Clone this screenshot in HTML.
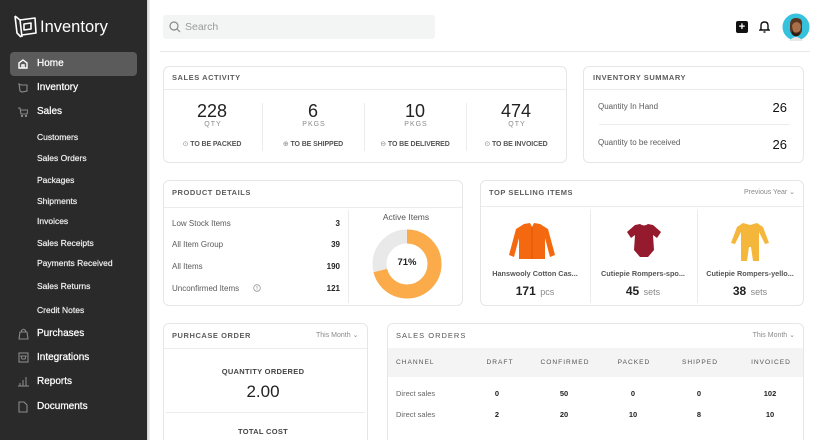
<!DOCTYPE html>
<html><head><meta charset="utf-8">
<style>
*{margin:0;padding:0;box-sizing:border-box}
html,body{width:825px;height:440px;overflow:hidden;background:#fff}
body{font-family:"Liberation Sans",sans-serif}
#w{position:relative;width:825px;height:440px;overflow:hidden}
.a{position:absolute;white-space:nowrap;line-height:12px}
.c{transform:translateX(-50%)}
.r{transform:translateX(-100%)}
#sb{position:absolute;left:0;top:0;width:147px;height:440px;background:#2a2a2a}
#sbe{position:absolute;left:147px;top:0;width:3px;height:440px;background:linear-gradient(to right,#cfcfcf,#f4f4f4)}
.m{color:#fff;font-size:10px;-webkit-text-stroke:0.25px #fff}
.s{color:#f0f0f0;font-size:8.5px;-webkit-text-stroke:0.2px #f0f0f0}
.card{position:absolute;border:1px solid #e6e6e6;border-radius:6px;background:#fff}
.hl{position:absolute;height:1px;background:#ececec}
.vl{position:absolute;width:1px;background:#ececec}
.h{font-size:7.5px;font-weight:bold;letter-spacing:0.55px;color:#5c5c5c}
.big{font-size:18px;color:#222;line-height:20px}
.u{font-size:7px;color:#8a8a8a;letter-spacing:1px}
.tb{font-size:7px;color:#555;font-weight:bold;letter-spacing:-0.1px}
.l8{font-size:8px;color:#5a5a5a}
.v8{font-size:8px;color:#222;font-weight:bold}
.dd{font-size:7px;color:#8a8a8a}
.th{font-size:6.6px;color:#555;letter-spacing:1px}
.rv{font-size:7.5px;color:#222;font-weight:bold}
.rl{font-size:7.5px;color:#666}
</style></head><body><div id="w">
<div id="sb"></div><div id="sbe"></div>
<!-- logo -->
<svg class="a" style="left:12px;top:13px" width="26" height="26" viewBox="0 0 26 26" fill="none" stroke="#fff" stroke-width="1.6" stroke-linejoin="round">
<path d="M3 3 L5 20 L9 24"/><path d="M3 3 L8 7 L10 24"/><path d="M8 7 L23 5 L24 20 L10 22"/><path d="M12 11 L19 10 L19 16 L12 17 Z"/>
</svg>
<div class="a" style="left:40px;top:17px;font-size:16.5px;color:#fff;line-height:20px">Inventory</div>
<!-- home highlight -->
<div style="position:absolute;left:10px;top:52px;width:127px;height:24px;background:#5b5b5b;border-radius:4px"></div>
<svg class="a" style="left:18px;top:59px" width="10" height="10" viewBox="0 0 10 10" fill="none" stroke="#fff" stroke-width="1.4"><path d="M1 9 V4 L5 1 L9 4 V9 Z"/><path d="M4 9 V6 H6 V9"/></svg>
<div class="a m" style="left:37px;top:58px">Home</div>
<svg class="a" style="left:18px;top:83px" width="10" height="10" viewBox="0 0 10 10" fill="none" stroke="#8a8a8a" stroke-width="1.1"><path d="M1 1 L2 8 L4 9 L9 8 L9 2 L3 2 Z"/></svg>
<div class="a m" style="left:37px;top:82px">Inventory</div>
<svg class="a" style="left:18px;top:107px" width="10" height="10" viewBox="0 0 10 10" fill="none" stroke="#8a8a8a" stroke-width="1.1"><path d="M0 1 H2 L3 7 H9 L10 3 H2.5"/><circle cx="4" cy="9" r=".6"/><circle cx="8" cy="9" r=".6"/></svg>
<div class="a m" style="left:37px;top:106px">Sales</div>
<div class="a s" style="left:37px;top:131px">Customers</div>
<div class="a s" style="left:37px;top:152px">Sales Orders</div>
<div class="a s" style="left:37px;top:174px">Packages</div>
<div class="a s" style="left:37px;top:195px">Shipments</div>
<div class="a s" style="left:37px;top:215px">Invoices</div>
<div class="a s" style="left:37px;top:237px">Sales Receipts</div>
<div class="a s" style="left:37px;top:257px">Payments Received</div>
<div class="a s" style="left:37px;top:280px">Sales Returns</div>
<div class="a s" style="left:37px;top:304px">Credit Notes</div>
<svg class="a" style="left:18px;top:328px" width="11" height="12" viewBox="0 0 11 12" fill="none" stroke="#8a8a8a" stroke-width="1.1"><path d="M1 11 L2 4 H9 L10 11 Z"/><path d="M3.5 4 V2.5 Q5.5 0 7.5 2.5 V4"/></svg>
<div class="a m" style="left:37px;top:328px">Purchases</div>
<svg class="a" style="left:18px;top:352px" width="11" height="11" viewBox="0 0 11 11" fill="none" stroke="#8a8a8a" stroke-width="1.1"><rect x="1" y="1" width="9" height="9"/><path d="M3 4 H8 L7 7 H4 Z"/></svg>
<div class="a m" style="left:37px;top:352px">Integrations</div>
<svg class="a" style="left:18px;top:376px" width="11" height="11" viewBox="0 0 11 11" fill="none" stroke="#8a8a8a" stroke-width="1.1"><path d="M0 10 H11"/><path d="M2 10 V7 M5 10 V4 M8 10 V1"/></svg>
<div class="a m" style="left:37px;top:376px">Reports</div>
<svg class="a" style="left:18px;top:401px" width="10" height="12" viewBox="0 0 10 12" fill="none" stroke="#8a8a8a" stroke-width="1.1"><path d="M1 1 H6 L9 4 V11 H1 Z"/></svg>
<div class="a m" style="left:37px;top:401px">Documents</div>

<!-- header -->
<div style="position:absolute;left:163px;top:15px;width:272px;height:24px;background:#f3f4f4;border-radius:3px"></div>
<svg class="a" style="left:169px;top:21px" width="12" height="12" viewBox="0 0 12 12" fill="none" stroke="#888" stroke-width="1.2"><circle cx="5" cy="5" r="4"/><path d="M8 8 L11 11"/></svg>
<div class="a" style="left:185px;top:21px;font-size:10.5px;color:#9a9a9a">Search</div>
<div class="hl" style="left:160px;top:51px;width:650px;background:#e8e8e8"></div>
<div style="position:absolute;left:736px;top:21px;width:12px;height:12px;background:#111;border-radius:2px"></div>
<div class="a" style="left:736px;top:21px;width:12px;text-align:center;color:#fff;font-size:11px;font-weight:bold;line-height:12px">+</div>
<svg class="a" style="left:759px;top:20px" width="11" height="13" viewBox="0 0 11 13" fill="none" stroke="#111" stroke-width="1.4"><path d="M2 9 V5.5 Q2 2 5.5 2 Q9 2 9 5.5 V9 L10 10 H1 Z"/><path d="M4.5 12 H6.5"/></svg>
<svg class="a" style="left:782px;top:13px" width="28" height="28" viewBox="0 0 28 28">
<circle cx="14" cy="14" r="13.5" fill="#36c1dc"/>
<path d="M8 12 Q8 5 14 5 Q21 5 20 12 L20 18 Q18 24 13 23 Q9 22 8 17 Z" fill="#5a3520"/>
<path d="M10 13 Q11 9 15 9 Q19 10 19 14 L18 18 Q14 21 11 18 Z" fill="#a8704a"/>
<path d="M10 17 Q13 24 18 18 L17 22 Q13 25 10 21 Z" fill="#2a1a12"/>
<path d="M7 28 Q14 20 21 28" fill="#e8e8e8"/>
</svg>

<!-- SALES ACTIVITY -->
<div class="card" style="left:163px;top:66px;width:404px;height:97px"></div>
<div class="a h" style="left:172px;top:72px">SALES ACTIVITY</div>
<div class="hl" style="left:164px;top:89px;width:402px"></div>
<div class="vl" style="left:262px;top:103px;height:48px"></div>
<div class="vl" style="left:364px;top:103px;height:48px"></div>
<div class="vl" style="left:466px;top:103px;height:48px"></div>
<div class="a big c" style="left:212px;top:101px">228</div>
<div class="a big c" style="left:313px;top:101px">6</div>
<div class="a big c" style="left:415px;top:101px">10</div>
<div class="a big c" style="left:516px;top:101px">474</div>
<div class="a u c" style="left:213px;top:119px">QTY</div>
<div class="a u c" style="left:314px;top:119px">PKGS</div>
<div class="a u c" style="left:416px;top:119px">PKGS</div>
<div class="a u c" style="left:517px;top:119px">QTY</div>
<div class="a tb c" style="left:212px;top:139px"><span style="font-weight:normal;color:#888">&#8857;</span> TO BE PACKED</div>
<div class="a tb c" style="left:313px;top:139px"><span style="font-weight:normal;color:#888">&#8853;</span> TO BE SHIPPED</div>
<div class="a tb c" style="left:415px;top:139px"><span style="font-weight:normal;color:#888">&#8854;</span> TO BE DELIVERED</div>
<div class="a tb c" style="left:516px;top:139px"><span style="font-weight:normal;color:#888">&#8857;</span> TO BE INVOICED</div>

<!-- INVENTORY SUMMARY -->
<div class="card" style="left:583px;top:66px;width:221px;height:97px"></div>
<div class="a h" style="left:593px;top:72px">INVENTORY SUMMARY</div>
<div class="hl" style="left:584px;top:89px;width:219px"></div>
<div class="a l8" style="left:598px;top:101px">Quantity In Hand</div>
<div class="a r" style="left:787px;top:101px;font-size:13px;color:#111;line-height:14px">26</div>
<div class="hl" style="left:599px;top:124px;width:191px"></div>
<div class="a l8" style="left:598px;top:137px">Quantity to be received</div>
<div class="a r" style="left:787px;top:138px;font-size:13px;color:#111;line-height:14px">26</div>

<!-- PRODUCT DETAILS -->
<div class="card" style="left:163px;top:180px;width:300px;height:126px"></div>
<div class="a h" style="left:172px;top:187px">PRODUCT DETAILS</div>
<div class="hl" style="left:164px;top:207px;width:298px"></div>
<div class="vl" style="left:348px;top:210px;height:93px"></div>
<div class="a l8" style="left:172px;top:218px">Low Stock Items</div>
<div class="a l8" style="left:172px;top:239px">All Item Group</div>
<div class="a l8" style="left:172px;top:261px">All Items</div>
<div class="a l8" style="left:172px;top:283px">Unconfirmed Items</div>
<svg class="a" style="left:253px;top:284px" width="8" height="8" viewBox="0 0 8 8" fill="none" stroke="#999" stroke-width=".8"><circle cx="4" cy="4" r="3.3"/><path d="M4 2 V4.6 M4 5.5 V6"/></svg>
<div class="a v8 r" style="left:340px;top:218px">3</div>
<div class="a v8 r" style="left:340px;top:239px">39</div>
<div class="a v8 r" style="left:340px;top:261px">190</div>
<div class="a v8 r" style="left:340px;top:283px">121</div>
<div class="a c" style="left:406px;top:211px;font-size:8.5px;color:#555">Active Items</div>
<svg class="a" style="left:372px;top:229px" width="70" height="70" viewBox="0 0 70 70">
<circle cx="35" cy="35" r="27.5" fill="none" stroke="#e9e9e9" stroke-width="14"/>
<circle cx="35" cy="35" r="27.5" fill="none" stroke="#fbab49" stroke-width="14" stroke-dasharray="122.7 200" transform="rotate(-90 35 35)"/>
</svg>
<div class="a c" style="left:407px;top:257px;font-size:9.5px;color:#222;font-weight:bold">71%</div>

<!-- TOP SELLING -->
<div class="card" style="left:480px;top:180px;width:324px;height:126px"></div>
<div class="a h" style="left:489px;top:187px">TOP SELLING ITEMS</div>
<div class="a dd" style="left:744px;top:187px">Previous Year &#8964;</div>
<div class="hl" style="left:481px;top:206px;width:322px"></div>
<div class="vl" style="left:590px;top:210px;height:93px"></div>
<div class="vl" style="left:697px;top:210px;height:93px"></div>
<svg class="a" style="left:506px;top:221px" width="52" height="42" viewBox="0 0 52 42">
<path d="M18 3 L24 2 L26 6 L28 2 L34 3 L42 8 L49 34 L44 36 L39 17 L39 38 L13 38 L13 17 L8 36 L3 34 L10 8 Z" fill="#f4690f"/>
<path d="M26 6 L26 38" stroke="#d65200" stroke-width=".8"/>
</svg>
<svg class="a" style="left:625px;top:222px" width="38" height="38" viewBox="0 0 38 38">
<path d="M10 3 L15 2 Q19 5 23 2 L28 3 L36 10 L32 16 L28 13 L29 28 L23 35 L15 35 L9 28 L10 13 L6 16 L2 10 Z" fill="#961a2e"/>
</svg>
<svg class="a" style="left:730px;top:221px" width="40" height="42" viewBox="0 0 40 42">
<path d="M13 2 L20 4 L27 2 L33 6 L39 22 L35 23 L29 11 L29 40 L23 40 L21 26 L19 26 L17 40 L11 40 L11 11 L5 23 L1 22 L7 6 Z" fill="#f5b63c"/>
</svg>
<div class="a c" style="left:535px;top:268px;font-size:7.3px;color:#555;font-weight:bold">Hanswooly Cotton Cas...</div>
<div class="a c" style="left:643px;top:268px;font-size:7.3px;color:#555;font-weight:bold">Cutiepie Rompers-spo...</div>
<div class="a c" style="left:750px;top:268px;font-size:7.3px;color:#555;font-weight:bold">Cutiepie Rompers-yello...</div>
<div class="a c" style="left:535px;top:284px;line-height:14px"><span style="font-size:12px;font-weight:bold;color:#222">171</span> <span style="font-size:9px;color:#888">pcs</span></div>
<div class="a c" style="left:643px;top:284px;line-height:14px"><span style="font-size:12px;font-weight:bold;color:#222">45</span> <span style="font-size:9px;color:#888">sets</span></div>
<div class="a c" style="left:750px;top:284px;line-height:14px"><span style="font-size:12px;font-weight:bold;color:#222">38</span> <span style="font-size:9px;color:#888">sets</span></div>

<!-- PURCHASE ORDER -->
<div class="card" style="left:163px;top:323px;width:205px;height:125px"></div>
<div class="a h" style="left:172px;top:330px">PURHCASE ORDER</div>
<div class="a dd" style="left:316px;top:330px">This Month &#8964;</div>
<div class="hl" style="left:164px;top:348px;width:203px"></div>
<div class="a c" style="left:263px;top:366px;font-size:7.5px;color:#444;font-weight:bold;letter-spacing:.3px">QUANTITY ORDERED</div>
<div class="a c" style="left:263px;top:382px;font-size:17px;color:#222;line-height:20px">2.00</div>
<div class="hl" style="left:166px;top:412px;width:199px"></div>
<div class="a c" style="left:263px;top:426px;font-size:7.5px;color:#444;font-weight:bold;letter-spacing:.3px">TOTAL COST</div>

<!-- SALES ORDERS -->
<div class="card" style="left:387px;top:323px;width:417px;height:125px"></div>
<div class="a h" style="left:396px;top:330px;font-weight:normal;color:#555;letter-spacing:1px">SALES ORDERS</div>
<div class="a dd r" style="left:795px;top:330px">This Month &#8964;</div>
<div style="position:absolute;left:388px;top:348px;width:415px;height:29px;background:#f4f4f4"></div>
<div class="a th" style="left:396px;top:357px">CHANNEL</div>
<div class="a th c" style="left:500px;top:357px">DRAFT</div>
<div class="a th c" style="left:565px;top:357px">CONFIRMED</div>
<div class="a th c" style="left:634px;top:357px">PACKED</div>
<div class="a th c" style="left:700px;top:357px">SHIPPED</div>
<div class="a th c" style="left:771px;top:357px">INVOICED</div>
<div class="a rl" style="left:396px;top:388px">Direct sales</div>
<div class="a rv c" style="left:497px;top:388px">0</div>
<div class="a rv c" style="left:564px;top:388px">50</div>
<div class="a rv c" style="left:633px;top:388px">0</div>
<div class="a rv c" style="left:699px;top:388px">0</div>
<div class="a rv c" style="left:770px;top:388px">102</div>
<div class="a rl" style="left:396px;top:409px">Direct sales</div>
<div class="a rv c" style="left:497px;top:409px">2</div>
<div class="a rv c" style="left:564px;top:409px">20</div>
<div class="a rv c" style="left:633px;top:409px">10</div>
<div class="a rv c" style="left:699px;top:409px">8</div>
<div class="a rv c" style="left:770px;top:409px">10</div>
</div></body></html>
